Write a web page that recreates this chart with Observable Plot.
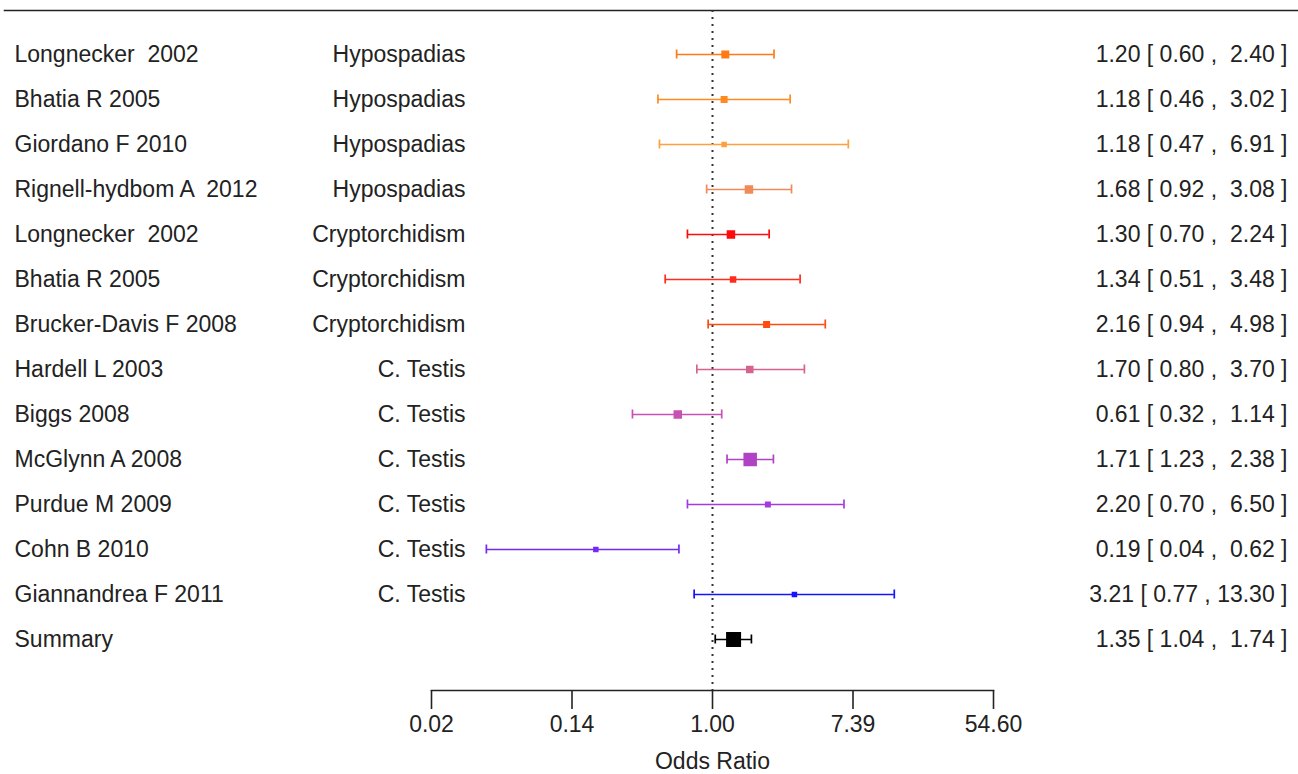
<!DOCTYPE html>
<html>
<head>
<meta charset="utf-8">
<script src="https://cdn.jsdelivr.net/npm/d3@7"></script>
<script src="https://cdn.jsdelivr.net/npm/@observablehq/plot@0.6"></script>
<style>
  html, body { margin: 0; padding: 0; background: #fff; }
  svg { display: block; }
  svg text { white-space: pre; }
</style>
</head>
<body>
<div id="chart"></div>
<script>
// ---- data ----
const studies = ["Longnecker  2002", "Bhatia R 2005", "Giordano F 2010", "Rignell-hydbom A  2012",
  "Longnecker  2002", "Bhatia R 2005", "Brucker-Davis F 2008", "Hardell L 2003", "Biggs 2008",
  "McGlynn A 2008", "Purdue M 2009", "Cohn B 2010", "Giannandrea F 2011", "Summary"];
const outcomes = ["Hypospadias", "Hypospadias", "Hypospadias", "Hypospadias",
  "Cryptorchidism", "Cryptorchidism", "Cryptorchidism", "C. Testis", "C. Testis",
  "C. Testis", "C. Testis", "C. Testis", "C. Testis", ""];
const oddsRatio = [1.20, 1.18, 1.18, 1.68, 1.30, 1.34, 2.16, 1.70, 0.61, 1.71, 2.20, 0.19, 3.21, 1.35];
const ciLower   = [0.60, 0.46, 0.47, 0.92, 0.70, 0.51, 0.94, 0.80, 0.32, 1.23, 0.70, 0.04, 0.77, 1.04];
const ciUpper   = [2.40, 3.02, 6.91, 3.08, 2.24, 3.48, 4.98, 3.70, 1.14, 2.38, 6.50, 0.62, 13.30, 1.74];
const weight    = [8, 7, 5.5, 8.5, 8.5, 6.5, 7, 7.5, 8.5, 13.5, 6, 5.5, 5.5, 15];
const colors = ["#FF7A14", "#FF8A22", "#FFA03E", "#F08A58", "#FF0A0A", "#FF2C1E", "#FF4A10",
  "#D6628E", "#C852B2", "#B042C4", "#A43CDC", "#7428F4", "#1414FF", "#000000"];
const tickExponents = [-4, -2, 0, 2, 4];
const axisTitle = "Odds Ratio";

// ---- table ----
const f2 = d3.format(".2f");
const rows = studies.map((s, i) => ({
  i, study: s, outcome: outcomes[i], or: oddsRatio[i], lo: ciLower[i], hi: ciUpper[i],
  w: weight[i], color: colors[i],
  label: `${f2(oddsRatio[i])} [ ${f2(ciLower[i])} , ${f2(ciUpper[i]).padStart(5, " ")} ]`
}));
const tickValues = tickExponents.map(Math.exp);
const font = "'Liberation Sans', Arial, Helvetica, sans-serif";
const ink = "#222";

const chart = Plot.plot({
  width: 1298,
  height: 774,
  marginLeft: 431,
  marginRight: 305,
  marginTop: 10,
  marginBottom: 84,
  style: { fontFamily: font, fontSize: "23px", color: ink, background: "#fff" },
  x: { type: "log", domain: [tickValues[0], tickValues[tickValues.length - 1]], axis: null },
  y: { type: "linear", domain: [0, rows.length - 1], range: [54, 639], axis: null },
  r: { type: "linear", domain: [0, 15], range: [0, 15 / Math.sqrt(Math.PI)] },
  marks: [
    Plot.frame({ anchor: "top", stroke: ink, strokeWidth: 1.6, insetLeft: -427, insetRight: -305 }),
    Plot.frame({ anchor: "bottom", stroke: ink, strokeWidth: 1.6 }),
    Plot.axisX({ ticks: tickValues, tickFormat: () => "", tickSize: 19, label: null,
      stroke: ink, strokeWidth: 1.6 }),
    Plot.text(tickValues, { x: d => d, text: d => f2(d), frameAnchor: "bottom", dy: 41, fontSize: 23, fill: ink }),
    Plot.text([axisTitle], { text: d => d, frameAnchor: "bottom", dy: 78, fontSize: 23, fill: ink }),
    Plot.ruleX([1], { stroke: "#333", strokeWidth: 2, strokeDasharray: "2,5" }),
    Plot.ruleY(rows, { y: "i", x1: "lo", x2: "hi", stroke: "color", strokeWidth: 1.7 }),
    Plot.ruleX(rows, { x: "lo", y1: d => d.i - 0.1, y2: d => d.i + 0.1, stroke: "color", strokeWidth: 1.7 }),
    Plot.ruleX(rows, { x: "hi", y1: d => d.i - 0.1, y2: d => d.i + 0.1, stroke: "color", strokeWidth: 1.7 }),
    Plot.dot(rows, { x: "or", y: "i", r: "w", symbol: "square", fill: "color", stroke: null }),
    Plot.text(rows, { y: "i", text: "study", frameAnchor: "left", dx: -417, textAnchor: "start", fill: ink }),
    Plot.text(rows, { y: "i", text: "outcome", frameAnchor: "left", dx: 34, textAnchor: "end", fill: ink }),
    Plot.text(rows, { y: "i", text: "label", frameAnchor: "right", dx: 294, textAnchor: "end", fill: ink })
  ]
});
document.getElementById("chart").appendChild(chart);
</script>
</body>
</html>
